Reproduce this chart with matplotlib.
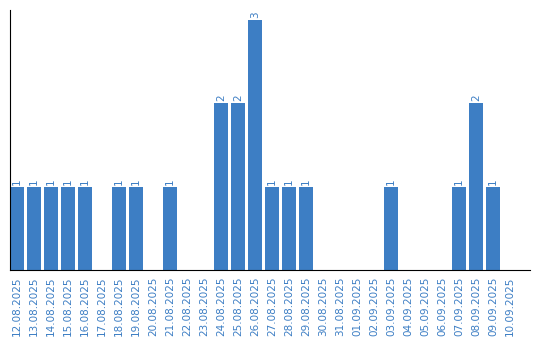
import matplotlib
matplotlib.use("Agg")
import matplotlib.pyplot as plt

dates = ["12.08.2025", "13.08.2025", "14.08.2025", "15.08.2025", "16.08.2025",
         "17.08.2025", "18.08.2025", "19.08.2025", "20.08.2025", "21.08.2025",
         "22.08.2025", "23.08.2025", "24.08.2025", "25.08.2025", "26.08.2025",
         "27.08.2025", "28.08.2025", "29.08.2025", "30.08.2025", "31.08.2025",
         "01.09.2025", "02.09.2025", "03.09.2025", "04.09.2025", "05.09.2025",
         "06.09.2025", "07.09.2025", "08.09.2025", "09.09.2025", "10.09.2025"]
counts = [1, 1, 1, 1, 1, 0, 1, 1, 0, 1,
          0, 0, 2, 2, 3, 1, 1, 1, 0, 0,
          0, 0, 1, 0, 0, 0, 1, 2, 1, 0]

color = "#3d7ec4"
fig = plt.figure(figsize=(5.4, 3.4), dpi=100)
ax = fig.add_axes([10/540, 70/340, 520/540, 260/340])
x = list(range(len(dates)))
ax.bar(x, counts, width=14/17, color=color)
for xi, c in zip(x, counts):
    if c > 0:
        ax.text(xi, c + 0.02, str(c), rotation=90, ha="center", va="bottom",
                fontsize=7.5, color=color)
ax.set_xlim(-7/17, 30.18)
ax.set_ylim(0, 260/83.5)
ax.set_xticks(x)
ax.set_xticklabels(dates, rotation=90, fontsize=7.5, color=color)
ax.tick_params(axis="x", length=0, pad=5)
ax.set_yticks([])
ax.spines["top"].set_visible(False)
ax.spines["right"].set_visible(False)
ax.spines["left"].set_color("black")
ax.spines["bottom"].set_color("black")
fig.savefig("out.png", dpi=100)
